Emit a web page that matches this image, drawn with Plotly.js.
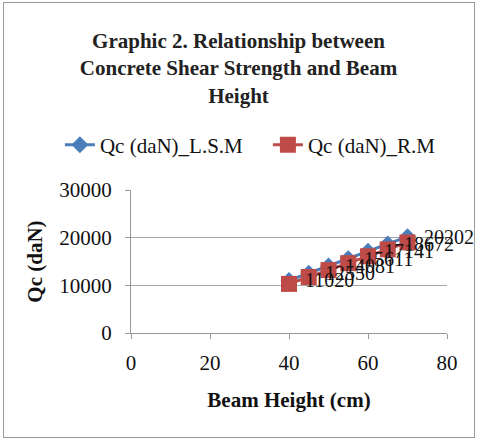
<!DOCTYPE html>
<html>
<head>
<meta charset="utf-8">
<script src="https://cdn.plot.ly/plotly-3.0.1.min.js"></script>
<style>
body{margin:0;padding:0;background:#fff;}
#wrap{position:relative;width:477px;height:440px;}
#chart{position:absolute;left:0;top:0;width:477px;height:440px;}
#frame{position:absolute;left:3px;top:2px;width:470px;height:434px;border:1px solid #9a9a9a;pointer-events:none;}
</style>
</head>
<body>
<div id="wrap"><div id="chart"></div><div id="frame"></div></div>
<script>
const beamHeight = [40, 45, 50, 55, 60, 65, 70];
const qcLSM = [11020, 12550, 14081, 15611, 17141, 18672, 20202];
const qcRM = [10300, 11750, 13200, 14650, 16100, 17550, 19000];
const seriesNames = ["Qc (daN)_L.S.M", "Qc (daN)_R.M"];
const xTicks = [0, 20, 40, 60, 80];
const yTicks = [0, 10000, 20000, 30000];

const serif = "Liberation Serif, Times New Roman, serif";

const traces = [
  {x: beamHeight, y: qcLSM, name: seriesNames[0], type: "scatter", mode: "lines+markers",
   line: {color: "#4A7EBB", width: 3},
   marker: {symbol: "diamond", size: 13, color: "#4A7EBB"}},
  {x: beamHeight, y: qcRM, name: seriesNames[1], type: "scatter", mode: "lines+markers",
   line: {color: "#BE4B48", width: 3},
   marker: {symbol: "square", size: 16, color: "#BE4B48"}}
];

const annotations = beamHeight.map((xv, i) => ({
  x: xv, y: qcLSM[i], xref: "x", yref: "y", text: String(qcLSM[i]),
  showarrow: false, xanchor: "left", yanchor: "middle", xshift: 14,
  font: {family: serif, size: 20, color: "#111"}
}));

const layout = {
  width: 477, height: 440,
  margin: {l: 131, r: 30, t: 190, b: 107},
  paper_bgcolor: "#fff", plot_bgcolor: "#fff",
  font: {family: serif, size: 20, color: "#111"},
  title: {text: "<b>Graphic 2. Relationship between<br>Concrete Shear Strength and Beam<br>Height</b>",
    font: {family: serif, size: 21, color: "#222"}, x: 0.5, xanchor: "center",
    y: 1 - 48/440, yanchor: "top", yref: "container"},
  showlegend: true,
  legend: {orientation: "h", x: -0.225, xanchor: "left", y: 1.314, yanchor: "middle",
    font: {family: serif, size: 21, color: "#111"}, entrywidth: 163, entrywidthmode: "pixels",
    bgcolor: "rgba(0,0,0,0)"},
  xaxis: {range: [0, 80], tickvals: xTicks, ticktext: xTicks.map(String),
    showgrid: false, zeroline: false, showline: true, linecolor: "#999", linewidth: 1,
    ticks: "outside", ticklen: 5, tickcolor: "#999", ticklabelstandoff: 6,
    tickfont: {family: serif, size: 21, color: "#111"},
    title: {text: "<b>Beam Height (cm)</b>", font: {family: serif, size: 21, color: "#111"}, standoff: 18}},
  yaxis: {range: [0, 30000], tickvals: yTicks, ticktext: yTicks.map(String),
    showgrid: true, gridcolor: "#a6a6a6", gridwidth: 1, zeroline: false,
    showline: true, linecolor: "#999", linewidth: 1,
    ticks: "outside", ticklen: 5, tickcolor: "#999", ticklabelstandoff: 9,
    tickfont: {family: serif, size: 21, color: "#111"},
    title: {text: "<b>Qc (daN)</b>", font: {family: serif, size: 21, color: "#111"}, standoff: 10}},
  annotations: annotations
};

Plotly.newPlot("chart", traces, layout, {displayModeBar: false, staticPlot: true});
</script>
</body>
</html>
